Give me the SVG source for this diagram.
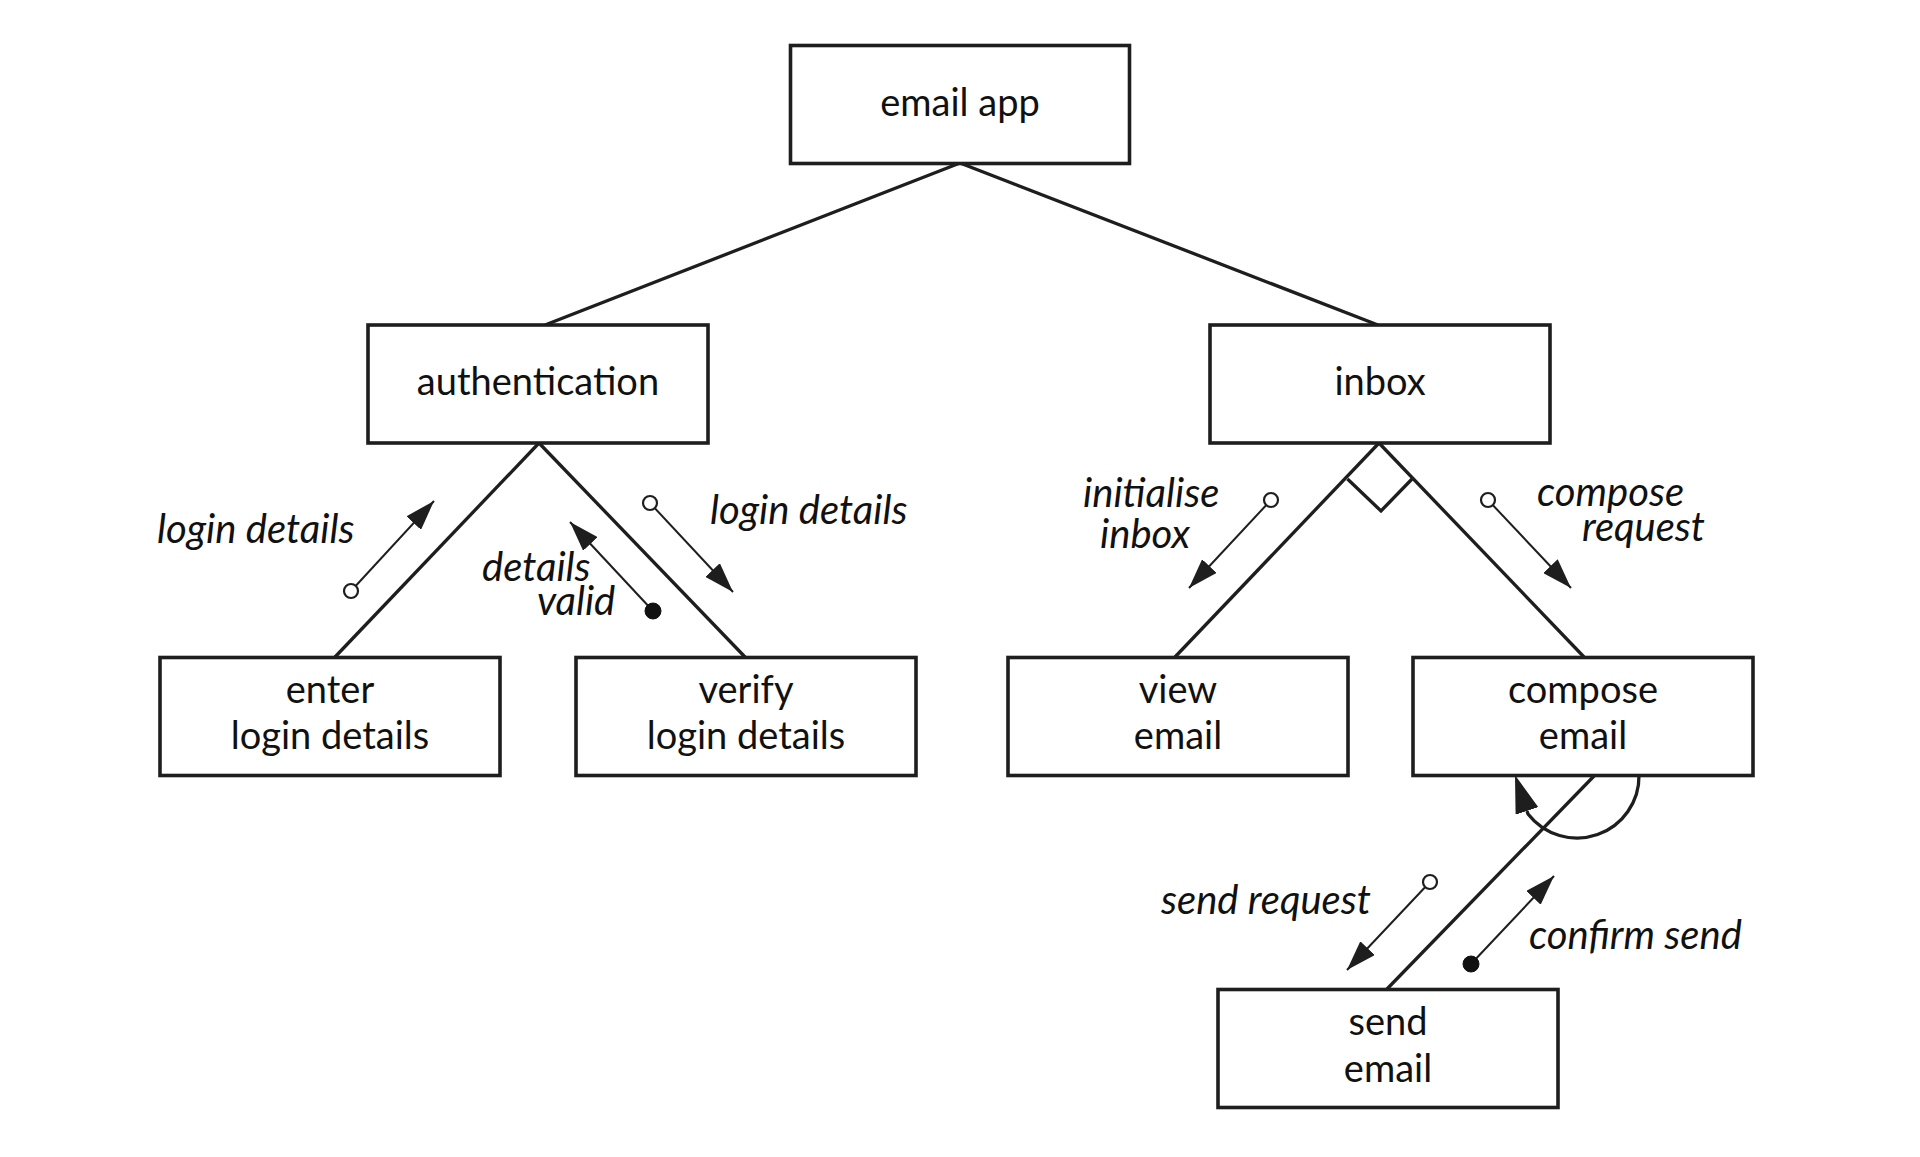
<svg xmlns="http://www.w3.org/2000/svg" width="1920" height="1157" viewBox="0 0 1920 1157">
  <style>
    .box { fill: #ffffff; stroke: #1e1e1e; stroke-width: 3.6; }
    .lbl { font-family: Lato, "Noto Sans", "Liberation Sans", sans-serif; font-size: 38px; fill: #111111; text-anchor: middle; }
    .msg { font-family: Lato, "Noto Sans", "Liberation Sans", sans-serif; font-size: 40px; font-style: italic; fill: #111111; }
    .edge { fill: none; stroke: #1e1e1e; stroke-width: 3.3; }
    .flow { fill: none; stroke: #1e1e1e; stroke-width: 2; }
    .ctrl { fill: #ffffff; stroke: #1e1e1e; stroke-width: 2.2; }
    .data { fill: #111111; stroke: #111111; stroke-width: 1; }
  </style>
  <defs>
    <marker id="arr" markerUnits="userSpaceOnUse" viewBox="0 0 30 20" markerWidth="30" markerHeight="20" refX="30" refY="10" orient="auto">
      <path d="M0,0 L30,10 L0,20 z" fill="#1e1e1e"/>
    </marker>
    <marker id="arrBig" markerUnits="userSpaceOnUse" viewBox="0 0 38 24" markerWidth="38" markerHeight="24" refX="0" refY="12" orient="auto">
      <path d="M0,0 L38,12 L0,24 z" fill="#1e1e1e"/>
    </marker>
  </defs>

  <g id="connectors">
    <line class="edge" x1="960" y1="163" x2="545" y2="325"/>
    <line class="edge" x1="960" y1="163" x2="1378" y2="325"/>
    <line class="edge" x1="539" y1="443" x2="335" y2="657"/>
    <line class="edge" x1="539" y1="443" x2="745" y2="657"/>
    <line class="edge" x1="1379" y1="443" x2="1175" y2="657"/>
    <line class="edge" x1="1379" y1="443" x2="1584" y2="657"/>
    <polyline class="edge" points="1347.5,479 1381,511 1412,479"/>
    <line class="edge" x1="1595" y1="775" x2="1387" y2="989"/>
    <path class="edge" d="M1639,775 A62,62 0 0 1 1528,814 L1527,811" marker-end="url(#arrBig)"/>

    <g id="msg-login-details-up">
      <line class="flow" x1="351" y1="591" x2="434" y2="501" marker-end="url(#arr)"/>
      <circle class="ctrl" cx="351" cy="591" r="7"/>
      <text class="msg" x="157" y="543">login details</text>
    </g>
    <g id="msg-details-valid">
      <line class="flow" x1="653" y1="611" x2="570" y2="522" marker-end="url(#arr)"/>
      <circle class="data" cx="653" cy="611" r="8"/>
      <text class="msg" x="482" y="581">details<tspan x="537" y="615">valid</tspan></text>
    </g>
    <g id="msg-login-details-down">
      <line class="flow" x1="650" y1="503" x2="733" y2="592" marker-end="url(#arr)"/>
      <circle class="ctrl" cx="650" cy="503" r="7"/>
      <text class="msg" x="710" y="524">login details</text>
    </g>
    <g id="msg-initialise-inbox">
      <line class="flow" x1="1271" y1="500" x2="1189" y2="588" marker-end="url(#arr)"/>
      <circle class="ctrl" cx="1271" cy="500" r="7"/>
      <text class="msg" x="1083" y="507">initialise<tspan x="1100" y="548">inbox</tspan></text>
    </g>
    <g id="msg-compose-request">
      <line class="flow" x1="1488" y1="500" x2="1571" y2="588" marker-end="url(#arr)"/>
      <circle class="ctrl" cx="1488" cy="500" r="7"/>
      <text class="msg" x="1537" y="506">compose<tspan x="1582" y="541">request</tspan></text>
    </g>
    <g id="msg-send-request">
      <line class="flow" x1="1430" y1="882" x2="1347" y2="970" marker-end="url(#arr)"/>
      <circle class="ctrl" cx="1430" cy="882" r="7"/>
      <text class="msg" x="1161" y="914">send request</text>
    </g>
    <g id="msg-confirm-send">
      <line class="flow" x1="1471" y1="964" x2="1554" y2="876" marker-end="url(#arr)"/>
      <circle class="data" cx="1471" cy="964" r="8"/>
      <text class="msg" x="1529" y="949">confirm send</text>
    </g>
  </g>

  <g id="email-app">
    <rect class="box" x="790.5" y="45.5" width="339" height="118"/>
    <text class="lbl" x="960" y="116">email app</text>
  </g>
  <g id="authentication">
    <rect class="box" x="368" y="325" width="340" height="118"/>
    <text class="lbl" x="538" y="395">authentication</text>
  </g>
  <g id="inbox">
    <rect class="box" x="1210" y="325" width="340" height="118"/>
    <text class="lbl" x="1380" y="395">inbox</text>
  </g>
  <g id="enter-login-details">
    <rect class="box" x="160" y="657.5" width="340" height="118"/>
    <text class="lbl" x="330" y="703">enter<tspan x="330" y="749">login details</tspan></text>
  </g>
  <g id="verify-login-details">
    <rect class="box" x="576" y="657.5" width="340" height="118"/>
    <text class="lbl" x="746" y="703">verify<tspan x="746" y="749">login details</tspan></text>
  </g>
  <g id="view-email">
    <rect class="box" x="1008" y="657.5" width="340" height="118"/>
    <text class="lbl" x="1178" y="703">view<tspan x="1178" y="749">email</tspan></text>
  </g>
  <g id="compose-email">
    <rect class="box" x="1413" y="657.5" width="340" height="118"/>
    <text class="lbl" x="1583" y="703">compose<tspan x="1583" y="749">email</tspan></text>
  </g>
  <g id="send-email">
    <rect class="box" x="1218" y="989.5" width="340" height="118"/>
    <text class="lbl" x="1388" y="1035">send<tspan x="1388" y="1082">email</tspan></text>
  </g>
</svg>
